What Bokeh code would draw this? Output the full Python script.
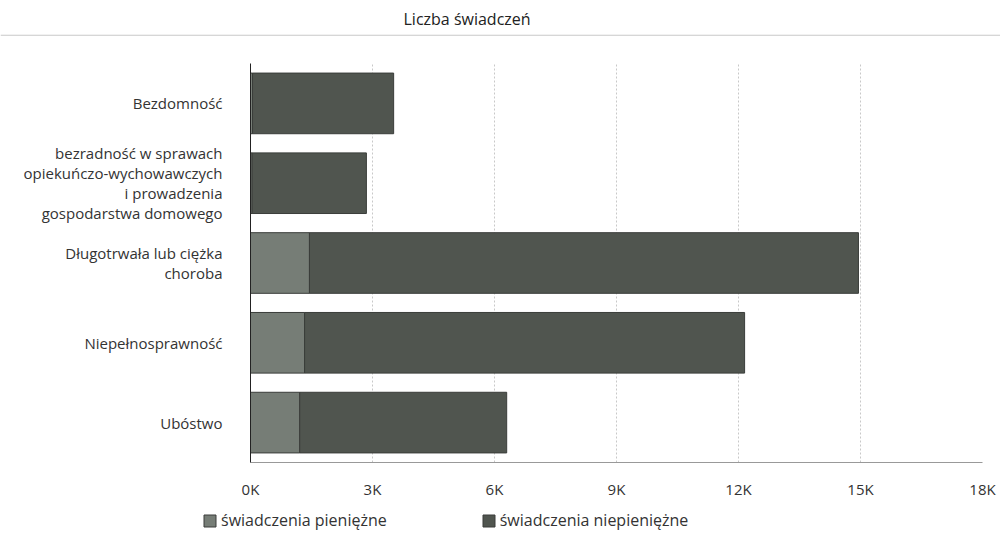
from bokeh.plotting import figure
from bokeh.layouts import column
from bokeh.models import (Range1d, FactorRange, FixedTicker, Legend, LegendItem,
                          Span, ColumnDataSource)
from bokeh.embed import file_html
from bokeh.resources import INLINE

categories = [
    "Bezdomność",
    "bezradność w sprawach\nopiekuńczo-wychowawczych\ni prowadzenia\ngospodarstwa domowego",
    "Długotrwała lub ciężka\nchoroba",
    "Niepełnosprawność",
    "Ubóstwo",
]
pieniezne = [50, 40, 1450, 1330, 1210]
niepieniezne = [3470, 2810, 13500, 10820, 5090]
x_ticks = [0, 3000, 6000, 9000, 12000, 15000, 18000]
x_tick_labels = ["0K", "3K", "6K", "9K", "12K", "15K", "18K"]
series = ["świadczenia pieniężne", "świadczenia niepieniężne"]
colors = ["#767d76", "#50554f"]

FONT = "Open Sans"
TXT = "#333333"
NAN = float("nan")

# header with title and rule
h = figure(width=1000, height=40, x_range=Range1d(0, 1), y_range=Range1d(0, 1),
           toolbar_location=None, output_backend="svg", min_border=0,
           x_axis_location=None, y_axis_location=None)
h.title.text = "Liczba świadczeń"
h.title.text_font = FONT
h.title.text_font_size = "16px"
h.title.text_font_style = "normal"
h.title.text_color = "#222222"
h.title.align = "left"
h.title.offset = 403
h.grid.visible = False
h.outline_line_color = None
h.add_layout(Span(location=0.9, dimension="width", line_color="#bbbbbb", line_width=1))

src = ColumnDataSource(dict(cat=categories, p=pieniezne, n=niepieniezne))

p = figure(width=1000, height=461, y_range=FactorRange(*categories[::-1]),
           x_range=Range1d(0, 18000), toolbar_location=None, output_backend="svg",
           min_border_left=250, min_border_right=18, min_border_top=23,
           min_border_bottom=30)

rs = p.hbar_stack(["p", "n"], y="cat", height=0.76, source=src, color=colors,
                  line_color="#3a3d3a", line_width=1)

p.xaxis.ticker = FixedTicker(ticks=x_ticks)
p.xaxis.major_label_overrides = {t: l for t, l in zip(x_ticks, x_tick_labels)}
p.xaxis.major_tick_line_color = None
p.xaxis.minor_tick_line_color = None
p.xaxis.axis_line_color = "#999999"
p.xaxis.major_label_standoff = 10
p.yaxis.major_tick_line_color = None
p.yaxis.axis_line_color = "#222222"
p.yaxis.major_label_standoff = 22
p.yaxis.major_label_text_line_height = 1.0
for ax in (p.xaxis[0], p.yaxis[0]):
    ax.major_label_text_font = FONT
    ax.major_label_text_font_size = "15px"
    ax.major_label_text_color = TXT
p.ygrid.grid_line_color = None
p.xgrid.grid_line_color = "#c8c8c8"
p.xgrid.grid_line_dash = "2 2"
p.outline_line_color = None
p.y_range.range_padding = 0

# legend strip
lf = figure(width=1000, height=35, x_range=Range1d(0, 1), y_range=Range1d(0, 1),
            toolbar_location=None, output_backend="svg", min_border=0,
            x_axis_location=None, y_axis_location=None)
lf.grid.visible = False
lf.outline_line_color = None
lr = [lf.hbar(y=[NAN], left=[NAN], right=[NAN], height=1, color=c, line_color="#3a3d3a")
      for c in colors]
legend = Legend(items=[LegendItem(label=series[i], renderers=[lr[i]]) for i in range(2)],
                orientation="horizontal", location=(202, 5), spacing=94,
                glyph_width=15, glyph_height=15, label_standoff=4, padding=0,
                border_line_color=None, background_fill_alpha=0,
                label_text_font=FONT, label_text_font_size="16px", label_text_color=TXT)
lf.add_layout(legend, "center")

layout = column(column(h), p, column(lf), spacing=0)
open("out.html", "w").write(file_html(layout, INLINE))
